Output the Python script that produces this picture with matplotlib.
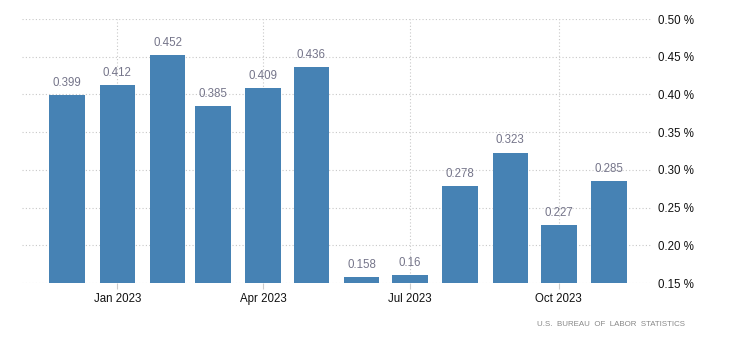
import matplotlib
matplotlib.use("Agg")
import matplotlib.pyplot as plt
import matplotlib.dates as mdates
import numpy as np
import datetime as dt

months = ["2022-12", "2023-01", "2023-02", "2023-03", "2023-04", "2023-05",
          "2023-06", "2023-07", "2023-08", "2023-09", "2023-10", "2023-11"]
values = [0.399, 0.412, 0.452, 0.385, 0.409, 0.436,
          0.158, 0.16, 0.278, 0.323, 0.227, 0.285]
labels = ["0.399", "0.412", "0.452", "0.385", "0.409", "0.436",
          "0.158", "0.16", "0.278", "0.323", "0.227", "0.285"]
tick_months = ["2023-01", "2023-04", "2023-07", "2023-10"]
tick_labels = ["Jan 2023", "Apr 2023", "Jul 2023", "Oct 2023"]
yticks = [0.15, 0.20, 0.25, 0.30, 0.35, 0.40, 0.45, 0.50]

plt.rcParams["font.family"] = ["Liberation Sans", "DejaVu Sans"]

dates = [dt.datetime.strptime(m, "%Y-%m") for m in months]
tdates = [dt.datetime.strptime(m, "%Y-%m") for m in tick_months]

fig = plt.figure(figsize=(7.32, 3.51), dpi=100)
ax = fig.add_axes([22 / 732, 68 / 351, (651 - 22) / 732, (332 - 68) / 351])

x = mdates.date2num(dates)
ax.bar(x, values, width=22, color="#4682B4", zorder=3)

for xi, v, lab in zip(x, values, labels):
    ax.text(xi, v + 0.008, lab, ha="center", va="bottom", fontsize=8.3,
            color="#75758a", zorder=4)

ax.set_xlim(mdates.date2num(dt.datetime(2022, 11, 3)),
            mdates.date2num(dt.datetime(2023, 11, 27)))
ax.set_ylim(0.15, 0.50)

ax.set_xticks(mdates.date2num(tdates))
ax.set_xticklabels(tick_labels, fontsize=8.3, color="#111111")
ax.set_yticks(yticks)
ax.set_yticklabels(["%.2f %%" % t for t in yticks], fontsize=8.3, color="#111111")
ax.yaxis.tick_right()
ax.tick_params(axis="y", length=0, pad=5)
ax.tick_params(axis="x", length=4, color="#cccccc", pad=3)

ax.grid(True, axis="both", linestyle=(0, (1, 2)), color="#c8c8c8", linewidth=0.8, zorder=0)
for s in ax.spines.values():
    s.set_visible(False)

fig.text(685 / 732, 1 - 325 / 351, "U.S.  BUREAU  OF  LABOR  STATISTICS",
         ha="right", va="center", fontsize=5.7, color="#888888")

fig.savefig("out.png", dpi=100)
